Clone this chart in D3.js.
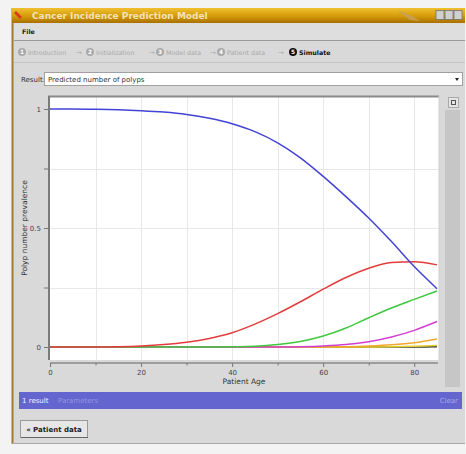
<!DOCTYPE html>
<html><head><meta charset="utf-8">
<script src="https://cdn.jsdelivr.net/npm/d3@7"></script>
<style>
html,body{margin:0;padding:0;background:#f3f3f3;}
svg{display:block;font-family:"DejaVu Sans",sans-serif;}
</style></head>
<body><svg id="c" width="466" height="454"></svg>
<script>
// ---- data ----
const ages = [0,5,10,15,20,25,30,35,40,45,50,55,60,65,70,75,80,85];
const polyp0 = [1.0,1.0,0.999,0.997,0.993,0.987,0.977,0.961,0.938,0.905,0.858,0.795,0.717,0.632,0.542,0.443,0.338,0.245];
const polyp1 = [0,0,0,0.001,0.004,0.01,0.02,0.036,0.06,0.096,0.14,0.19,0.243,0.292,0.331,0.355,0.358,0.345];
const polyp2 = [0,0,0,0,0,0,0,0,0.001,0.003,0.01,0.023,0.046,0.08,0.123,0.164,0.2,0.235];
const polyp3 = [0,0,0,0,0,0,0,0,0,0,0,0.001,0.004,0.01,0.022,0.042,0.07,0.107];
const polyp4 = [0,0,0,0,0,0,0,0,0,0,0,0,0,0.001,0.004,0.009,0.018,0.034];
const polyp5 = [0,0,0,0,0,0,0,0,0,0,0,0,0,0,0,0.001,0.003,0.006];
const polyp6 = [0,0,0,0,0,0,0,0,0,0,0,0,0,0,0,0,0,0.001];
const seriesColors = ["#4343d6","#e43c3c","#3ec83e","#d23fd2","#f0a830","#e2d12a","#3a3a3a"];
const xTickLabels = [0,20,40,60,80];
const xMinorTicks = [10,30,50,70];
const yTickLabels = [0,0.5,1];
const yMinorTicks = [0.25,0.75];
const breadcrumb = ["Introduction","Initialization","Model data","Patient data","Simulate"];

const svg = d3.select("#c");

// ---- window chrome ----
svg.append("rect").attr("x",12).attr("y",8).attr("width",453).attr("height",436).attr("fill","#d9d9d9");
svg.append("rect").attr("x",11.5).attr("y",8).attr("width",2).attr("height",436).attr("fill","#a07c2c");
svg.append("line").attr("x1",12).attr("x2",465).attr("y1",443.5).attr("y2",443.5).attr("stroke","#a8a8a8");
const defs = svg.append("defs");
const tg = defs.append("linearGradient").attr("id","tg").attr("x1",0).attr("y1",0).attr("x2",0).attr("y2",1);
tg.append("stop").attr("offset","0%").attr("stop-color","#f0c030");
tg.append("stop").attr("offset","55%").attr("stop-color","#d49a08");
tg.append("stop").attr("offset","100%").attr("stop-color","#a87000");
svg.append("rect").attr("x",12).attr("y",8).attr("width",453).attr("height",15).attr("fill","url(#tg)");
svg.append("path").attr("d","M16,11 L22,17 L20,19 L14,13 Z").attr("fill","#d83a1a");
svg.append("text").attr("x",32).attr("y",19).attr("font-size",9).attr("font-weight","bold")
  .attr("fill","#f3e2b8").text("Cancer Incidence Prediction Model");
svg.append("path").attr("d","M398,10 L412,16 L420,21 L410,20 L402,14 Z").attr("fill","#c8a060").attr("opacity",0.8);
[436,445,454].forEach((x,i)=>{
  svg.append("rect").attr("x",x).attr("y",10.5).attr("width",8).attr("height",9).attr("fill","#d0d0d0").attr("stroke","#707070").attr("stroke-width",0.8);
});
// menu bar
svg.append("rect").attr("x",14).attr("y",23).attr("width",451).attr("height",17).attr("fill","#dedede");
svg.append("line").attr("x1",14).attr("x2",465).attr("y1",40.5).attr("y2",40.5).attr("stroke","#9a9a9a");
svg.append("text").attr("x",22).attr("y",34).attr("font-size",6.3).attr("font-weight","bold").attr("fill","#202020").text("File");
// breadcrumb bar
svg.append("line").attr("x1",14).attr("x2",465).attr("y1",62.5).attr("y2",62.5).attr("stroke","#c4c4c4");
const bcX = [22,90,160,221,293];
breadcrumb.forEach((t,i)=>{
  const last = i===breadcrumb.length-1;
  const col = last ? "#111" : "#a9a9a9";
  svg.append("circle").attr("cx",bcX[i]).attr("cy",52).attr("r",4).attr("fill",col);
  svg.append("text").attr("x",bcX[i]).attr("y",54.2).attr("text-anchor","middle").attr("font-size",5.8).attr("font-weight","bold").attr("fill","#fff").text(i+1);
  svg.append("text").attr("x",bcX[i]+6).attr("y",54.5).attr("font-size",6.3).attr("font-weight",last?"bold":"normal").attr("fill",col).text(t);
  if(!last){
    const ax = [79,152,213,281][i];
    svg.append("text").attr("x",ax).attr("y",54.5).attr("text-anchor","middle").attr("font-size",7).attr("fill","#a9a9a9").text("→");
  }
});
// result selector
svg.append("text").attr("x",21).attr("y",82).attr("font-size",7).attr("fill","#333").text("Result:");
svg.append("rect").attr("x",44.5).attr("y",72.5).attr("width",418).attr("height",13).attr("fill","#fff").attr("stroke","#a0a0a0");
svg.append("text").attr("x",48).attr("y",82).attr("font-size",7).attr("fill","#333").text("Predicted number of polyps");
svg.append("path").attr("d","M455,78 L459,78 L457,81 Z").attr("fill","#222");

// right panel
svg.append("rect").attr("x",445).attr("y",110).attr("width",15).attr("height",277).attr("fill","#c6c6c6");
svg.append("rect").attr("x",448.5).attr("y",97.5).attr("width",10).attr("height",10).attr("fill","#e4e4e4").attr("stroke","#aaa");
svg.append("rect").attr("x",451.5).attr("y",100.5).attr("width",4).attr("height",4).attr("fill","none").attr("stroke","#555");

// ---- plot ----
const x = d3.scaleLinear().domain([0,85]).range([50,437]);
const y = d3.scaleLinear().domain([0,1]).range([347,109]);
const px0 = 48, px1 = 439, py0 = 96, py1 = 360;
svg.append("rect").attr("x",px0).attr("y",py0).attr("width",px1-px0).attr("height",py1-py0).attr("fill","#fff");
const grid = svg.append("g").attr("stroke","#e8e8e8").attr("stroke-width",1);
d3.range(10,90,10).forEach(v=>grid.append("line").attr("x1",Math.round(x(v))+0.5).attr("x2",Math.round(x(v))+0.5).attr("y1",py0).attr("y2",py1));
[0.25,0.5,0.75].forEach(v=>grid.append("line").attr("x1",px0).attr("x2",px1).attr("y1",Math.round(y(v))+0.5).attr("y2",Math.round(y(v))+0.5));
svg.append("line").attr("x1",px0).attr("x2",px1).attr("y1",py0+0.5).attr("y2",py0+0.5).attr("stroke","#8a8a8a").attr("stroke-width",2);
svg.append("line").attr("x1",px0+1).attr("x2",px0+1).attr("y1",py0).attr("y2",py1).attr("stroke","#7a7a7a").attr("stroke-width",2);
svg.append("line").attr("x1",px1).attr("x2",px1).attr("y1",py0).attr("y2",py1).attr("stroke","#d0d0d0");

const series = [polyp6,polyp5,polyp4,polyp3,polyp2,polyp1,polyp0];
const cols = seriesColors.slice().reverse();
const line = d3.line().x((d,i)=>x(ages[i])).y(d=>y(d)).curve(d3.curveMonotoneX);
series.forEach((s,k)=>{
  svg.append("path").attr("d",line(s)).attr("fill","none").attr("stroke",cols[k]).attr("stroke-width",1.5);
});

// y axis
const yAxis = d3.axisLeft(y).tickValues(yTickLabels).tickSize(4).tickFormat(d=>d===0?"0":d===1?"1":"0.5");
const yg = svg.append("g").attr("transform","translate(48,0)").call(yAxis);
yg.select(".domain").remove();
const yMin = d3.axisLeft(y).tickValues(yMinorTicks).tickSize(4).tickFormat("");
const ym = svg.append("g").attr("transform","translate(48,0)").call(yMin);
ym.select(".domain").remove();
[yg,ym].forEach(g=>{g.selectAll("line").attr("stroke","#777");g.selectAll("text").attr("fill","#444").attr("font-size",7).attr("font-family","DejaVu Sans");});

// x axis
const xAxis = d3.axisBottom(x).tickValues(xTickLabels).tickSize(4).tickFormat(d3.format("d"));
const xg = svg.append("g").attr("transform","translate(0,363)").call(xAxis);
xg.select(".domain").attr("stroke","#888").attr("stroke-width",1.5).attr("d","M50,0H438");
const xMin = d3.axisBottom(x).tickValues(xMinorTicks).tickSize(2.5).tickFormat("");
const xm = svg.append("g").attr("transform","translate(0,363)").call(xMin);
xm.select(".domain").remove();
[xg,xm].forEach(g=>{g.selectAll("line").attr("stroke","#777");g.selectAll("text").attr("fill","#444").attr("font-size",7).attr("font-family","DejaVu Sans");});

svg.append("text").attr("x",244).attr("y",384).attr("text-anchor","middle").attr("font-size",7.5).attr("fill","#333").text("Patient Age");
svg.append("text").attr("transform","translate(27,228) rotate(-90)").attr("text-anchor","middle").attr("font-size",7.5).attr("fill","#333").text("Polyp number prevalence");

// status bar
svg.append("rect").attr("x",19).attr("y",392).attr("width",443).attr("height",17).attr("fill","#6565cf");
svg.append("text").attr("x",22).attr("y",403).attr("font-size",7).attr("fill","#f4f4ff").text("1 result");
svg.append("text").attr("x",58).attr("y",403).attr("font-size",7).attr("fill","#9494e0").text("Parameters");
svg.append("text").attr("x",458).attr("y",403).attr("text-anchor","end").attr("font-size",7).attr("fill","#a8a8ea").text("Clear");

// button
svg.append("rect").attr("x",20.5).attr("y",420.5).attr("width",67).attr("height",17).attr("fill","#e6e6e6").attr("stroke","#9a9a9a");
svg.append("line").attr("x1",21).attr("x2",88).attr("y1",437.5).attr("y2",437.5).attr("stroke","#666");
svg.append("text").attr("x",54).attr("y",432).attr("text-anchor","middle").attr("font-size",7).attr("font-weight","bold").attr("fill","#222").text("« Patient data");
</script></body></html>
